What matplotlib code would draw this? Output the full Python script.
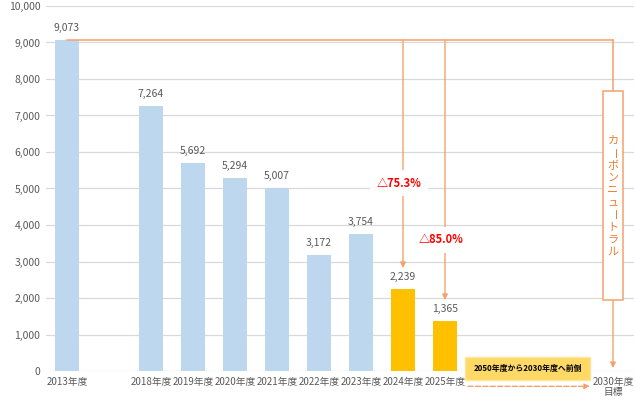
import matplotlib
matplotlib.use("Agg")
import matplotlib.pyplot as plt
from matplotlib.patches import Rectangle

plt.rcParams['font.family'] = ['Noto Sans CJK JP', 'DejaVu Sans']

# データ
slots = ['2013年度', '', '2018年度', '2019年度', '2020年度', '2021年度',
         '2022年度', '2023年度', '2024年度', '2025年度', '', '', '', '2030年度\n目標']
values = [9073, None, 7264, 5692, 5294, 5007, 3172, 3754, 2239, 1365, None, None, None, None]
bar_colors = ['#BDD7EE'] * 8 + ['#FFC000'] * 2 + ['#BDD7EE'] * 4
reduction_labels = ['△75.3%', '△85.0%']
neutral_text = 'カーボンニュートラル'
front_text = '2050年度から2030年度へ前倒'

orange = '#F4A26B'
gray = '#595959'

fig = plt.figure(figsize=(6.35, 4.03), dpi=100)
ax = fig.add_axes([46 / 635, 1 - 371 / 403, 588 / 635, 365 / 403])

xs = list(range(len(slots)))
for x, v, c in zip(xs, values, bar_colors):
    if v is None:
        continue
    ax.bar(x, v, width=0.57, color=c, zorder=2)
    ax.annotate(f'{v:,}', (x, v), xytext=(0, 5), textcoords='offset points',
                ha='center', va='bottom', fontsize=7.5, color=gray)

ax.set_xlim(-0.5, len(slots) - 0.5)
ax.set_ylim(0, 10000)
ax.set_yticks(range(0, 10001, 1000))
ax.set_yticklabels([f'{t:,}' for t in range(0, 10001, 1000)], fontsize=7.5, color=gray)
ax.set_xticks(xs)
ax.set_xticklabels(slots, fontsize=7, color=gray, linespacing=1.1)
ax.tick_params(length=0, pad=4)
ax.grid(axis='y', color='#D9D9D9', linewidth=0.9, zorder=0)
for s in ax.spines.values():
    s.set_visible(False)

# 2013年度基準の横線
base = values[0]
ax.plot([0, 13], [base, base], color=orange, lw=1.1, zorder=3)

# 削減率の矢印
for x, tip, ly, lab in [(8, 2822, 5150, reduction_labels[0]), (9, 1945, 3590, reduction_labels[1])]:
    ax.annotate('', xy=(x, tip), xytext=(x, base),
                arrowprops=dict(arrowstyle='-|>', color=orange, lw=1.0,
                                mutation_scale=8, shrinkA=0, shrinkB=0), zorder=3)
    ax.text(x - 0.1, ly, lab, ha='center', va='center', fontsize=8, color='#FF0000',
            fontweight='bold', zorder=4,
            bbox=dict(boxstyle='square,pad=0.6', fc='white', ec='none'))

# カーボンニュートラル（縦書き）
ax.plot([13, 13], [base, 7671], color=orange, lw=1.1, zorder=3)
ax.add_patch(Rectangle((13 - 0.24, 1945), 0.48, 7671 - 1945, fc='white', ec=orange,
                       lw=1.1, zorder=4))
top_c, bot_c = 6300, 3260
step = (top_c - bot_c) / (len(neutral_text) - 1)
for i, ch in enumerate(neutral_text):
    ax.text(13, top_c - i * step, ch, ha='center', va='center', fontsize=8,
            color='#ED7D31', rotation=-90 if ch == 'ー' else 0, zorder=5)
ax.annotate('', xy=(13, 80), xytext=(13, 1945),
            arrowprops=dict(arrowstyle='-|>', color=orange, lw=1.0,
                            mutation_scale=8, shrinkA=0, shrinkB=0), zorder=3)

# 前倒しの表示
ax.annotate('', xy=(12.45, -420), xytext=(9.55, -420), annotation_clip=False,
            arrowprops=dict(arrowstyle='-|>', color=orange, lw=1.0, ls='--',
                            mutation_scale=8, shrinkA=0, shrinkB=0))
ax.add_patch(Rectangle((9.48, -247), 2.97, 631, fc='#FFD966', ec='#FFE699',
                       lw=1, zorder=5, clip_on=False))
ax.text(10.965, 68, front_text, ha='center', va='center', fontsize=5.7,
        color='black', fontweight='bold', zorder=6, clip_on=False)

fig.savefig('out.png', dpi=100)
